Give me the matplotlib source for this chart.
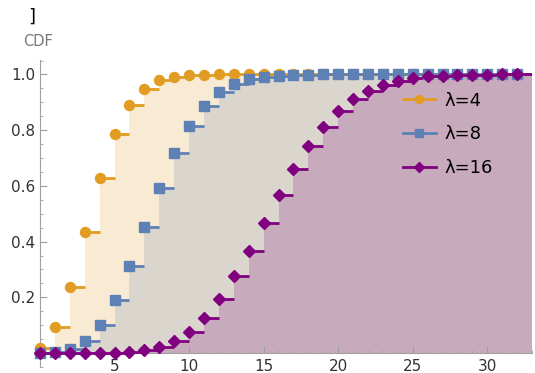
import numpy as np
import matplotlib.pyplot as plt
from matplotlib.ticker import MultipleLocator

# Poisson CDF values, k = 0..32
k = np.arange(33)
cdf_4 = [0.018, 0.092, 0.238, 0.434, 0.629, 0.785, 0.889, 0.949, 0.979, 0.992,
         0.997, 0.999, 1.0, 1.0, 1.0, 1.0, 1.0, 1.0, 1.0, 1.0, 1.0, 1.0, 1.0,
         1.0, 1.0, 1.0, 1.0, 1.0, 1.0, 1.0, 1.0, 1.0, 1.0]
cdf_8 = [0.000, 0.003, 0.014, 0.042, 0.100, 0.191, 0.313, 0.453, 0.593, 0.717,
         0.816, 0.888, 0.936, 0.966, 0.983, 0.992, 0.996, 0.998, 0.999, 1.0,
         1.0, 1.0, 1.0, 1.0, 1.0, 1.0, 1.0, 1.0, 1.0, 1.0, 1.0, 1.0, 1.0]
cdf_16 = [0.000, 0.000, 0.000, 0.000, 0.000, 0.001, 0.004, 0.010, 0.022, 0.043,
          0.077, 0.127, 0.193, 0.275, 0.368, 0.467, 0.566, 0.659, 0.742, 0.812,
          0.868, 0.911, 0.942, 0.963, 0.978, 0.987, 0.993, 0.996, 0.998, 0.999,
          0.999, 1.0, 1.0]
labels = ['λ=4', 'λ=8', 'λ=16']

colors = ['#e19c24', '#5e81b5', '#800080']
markers = ['o', 's', 'D']
msizes = [7.2, 6.5, 6.2]

fig = plt.figure(figsize=(5.35, 3.73), dpi=100)
ax = fig.add_axes([40 / 535, 6 / 373, 492 / 535, 307 / 373])

series = [cdf_4, cdf_8, cdf_16]

# fills first (semi transparent, overlapping like Mathematica)
for vals, c in zip(series, colors):
    xs = np.append(k, k[-1] + 1)
    ys = np.append(vals, vals[-1])
    ax.fill_between(xs, ys, 0, step='post', color=c, alpha=0.2, lw=0, zorder=1)

for vals, c, m, ms, lab in zip(series, colors, markers, msizes, labels):
    ax.hlines(vals, k, k + 1, color=c, lw=2, zorder=3)
    ax.plot(k, vals, ls='none', marker=m, ms=ms, color=c, zorder=4, clip_on=False)
    # legend handle
    ax.plot([], [], color=c, lw=2, marker=m, ms=ms * 0.8, label=lab)

ax.set_xlim(0, 33)
ax.set_ylim(-0.05, 1.052)

for s in ['top', 'right']:
    ax.spines[s].set_visible(False)
ax.spines['bottom'].set_position(('data', 0))
for s in ['left', 'bottom']:
    ax.spines[s].set_color('#a0a0a0')

ax.set_xticks([5, 10, 15, 20, 25, 30])
ax.xaxis.set_minor_locator(MultipleLocator(1))
ax.set_yticks([0.2, 0.4, 0.6, 0.8, 1.0])
ax.set_yticklabels(['0.2', '0.4', '0.6', '0.8', '1.0'])
ax.yaxis.set_minor_locator(MultipleLocator(0.05))
ax.tick_params(which='both', direction='in', color='#a0a0a0', labelsize=11,
               labelcolor='#333333')
ax.tick_params(which='major', length=5)
ax.tick_params(which='minor', length=2.5)
ax.tick_params(axis='x', pad=4)

leg = ax.legend(loc='upper left', bbox_to_anchor=(0.705, 0.95), frameon=False,
                fontsize=13, handlelength=1.8, labelspacing=0.88,
                handletextpad=0.5)

fig.text(38 / 535, 1 - 42 / 373, 'CDF', color='#777777', fontsize=10.5,
         ha='center', va='center')
fig.text(32 / 535, 1 - 17 / 373, ']', color='black', fontsize=13,
         ha='center', va='center')

fig.savefig('out.png', dpi=100)
